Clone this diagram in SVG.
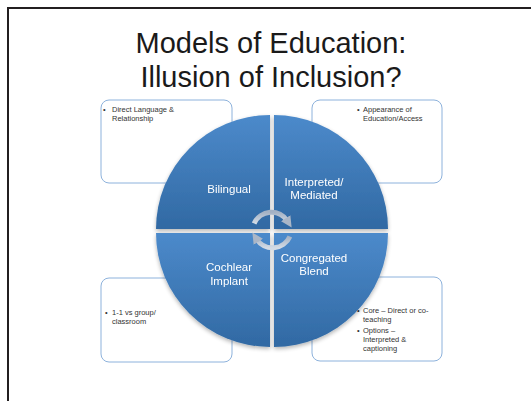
<svg xmlns="http://www.w3.org/2000/svg" width="531" height="401" viewBox="0 0 531 401">
  <defs>
    <linearGradient id="qg" x1="0" y1="0" x2="0" y2="1">
      <stop offset="0" stop-color="#4c8acb"/>
      <stop offset="1" stop-color="#3169a3"/>
    </linearGradient>
    <linearGradient id="ag" x1="0" y1="0" x2="0" y2="1">
      <stop offset="0" stop-color="#a3b1c4"/>
      <stop offset="1" stop-color="#d3dbe5"/>
    </linearGradient>
    <marker id="ah" viewBox="0 0 10 10" refX="3" refY="5" markerWidth="11" markerHeight="11" markerUnits="userSpaceOnUse" orient="auto">
      <path d="M0,0 L10,5 L0,10 Z" fill="#aab6c7"/>
    </marker>
    <filter id="sh" x="-10%" y="-10%" width="120%" height="120%">
      <feGaussianBlur in="SourceAlpha" stdDeviation="2"/>
      <feOffset dy="2" result="b"/>
      <feComponentTransfer><feFuncA type="linear" slope="0.3"/></feComponentTransfer>
      <feMerge><feMergeNode/><feMergeNode in="SourceGraphic"/></feMerge>
    </filter>
  </defs>
  <style>
    .frame { stroke: #231f20; stroke-width: 2; fill: none; }
    .title { font-family: "Liberation Sans", Arial, sans-serif; font-size: 29px; fill: #1a1a1a; text-anchor: middle; }
    .box { fill: #ffffff; stroke: #8db2dc; stroke-width: 1; }
    .bt { font-family: "Liberation Sans", Arial, sans-serif; font-size: 7.5px; fill: #333333; }
    .q { fill: url(#qg); }
    .qt { font-family: "Liberation Sans", Arial, sans-serif; font-size: 11.5px; fill: #ffffff; text-anchor: middle; }
    .arc { fill: none; stroke: url(#ag); stroke-width: 5; }
  </style>
  <rect width="531" height="401" fill="#ffffff"/>
  <path class="frame" d="M8,401 L8,8 L531,8"/>

  <g id="title">
    <text class="title" x="271" y="53">Models of Education:</text>
    <text class="title" x="271" y="87">Illusion of Inclusion?</text>
  </g>

  <g id="box-tl">
    <rect class="box" x="101" y="100" width="131" height="83" rx="8"/>
    <text class="bt" x="103" y="112">•</text>
    <text class="bt" x="112" y="112">Direct Language &amp;</text>
    <text class="bt" x="112" y="121">Relationship</text>
  </g>
  <g id="box-tr">
    <rect class="box" x="312" y="100" width="130" height="83" rx="8"/>
    <text class="bt" x="357" y="112">•</text>
    <text class="bt" x="363" y="112">Appearance of</text>
    <text class="bt" x="363" y="121">Education/Access</text>
  </g>
  <g id="box-bl">
    <rect class="box" x="101" y="278" width="131" height="84" rx="8"/>
    <text class="bt" x="105" y="315">•</text>
    <text class="bt" x="112" y="315">1-1 vs group/</text>
    <text class="bt" x="112" y="324">classroom</text>
  </g>
  <g id="box-br">
    <rect class="box" x="312" y="277" width="130" height="84" rx="8"/>
    <text class="bt" x="357" y="313">•</text>
    <text class="bt" x="363" y="313">Core – Direct or co-</text>
    <text class="bt" x="363" y="322">teaching</text>
    <text class="bt" x="357" y="333">•</text>
    <text class="bt" x="363" y="333">Options –</text>
    <text class="bt" x="363" y="342">Interpreted &amp;</text>
    <text class="bt" x="363" y="351">captioning</text>
  </g>

  <g filter="url(#sh)">
    <g id="q-bilingual">
      <path class="q" d="M270,229 L156,229 A114,114 0 0 1 270,115 Z"/>
      <text class="qt" x="229" y="193">Bilingual</text>
    </g>
    <g id="q-interpreted">
      <path class="q" d="M274,229 L274,115 A114,114 0 0 1 388,229 Z"/>
      <text class="qt" x="314" y="186">Interpreted/</text>
      <text class="qt" x="314" y="199">Mediated</text>
    </g>
    <g id="q-cochlear">
      <path class="q" d="M270,233 L270,347 A114,114 0 0 1 156,233 Z"/>
      <text class="qt" x="229" y="271">Cochlear</text>
      <text class="qt" x="229" y="285">Implant</text>
    </g>
    <g id="q-congregated">
      <path class="q" d="M274,233 L388,233 A114,114 0 0 1 274,347 Z"/>
      <text class="qt" x="314" y="262">Congregated</text>
      <text class="qt" x="314" y="275">Blend</text>
    </g>
  </g>

  <g id="connectors">
    <path class="arc" d="M254.1,223.5 A19,19 0 0 1 287.5,221" marker-end="url(#ah)"/>
    <path class="arc" d="M289.9,236.5 A19,19 0 0 1 256.5,239" marker-end="url(#ah)"/>
  </g>
</svg>
